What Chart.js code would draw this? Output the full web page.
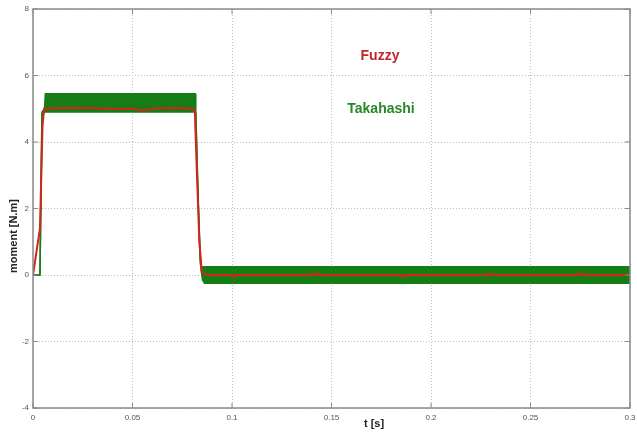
<!DOCTYPE html>
<html lang="en">
<head>
  <meta charset="UTF-8">
  <title>Moment - Fuzzy vs Takahashi</title>
  <script src="https://cdn.jsdelivr.net/npm/chart.js"></script>
  <style>
    html, body { margin: 0; padding: 0; background: #fff; }
    #wrap { width: 637px; height: 432px; }
  </style>
</head>
<body>
  <div id="wrap"><canvas id="momentChart" width="637" height="432"></canvas></div>

  <script>
    // time axis ticks [s] and moment axis ticks [N.m]
    const xTicks = [0, 0.05, 0.1, 0.15, 0.2, 0.25, 0.3];
    const yTicks = [-4, -2, 0, 2, 4, 6, 8];

    // Fuzzy controller torque (red)
    const fuzzyT = [0, 0.0035, 0.0048, 0.0056, 0.02, 0.04, 0.05, 0.055, 0.06, 0.07, 0.08, 0.0813,
                    0.0824, 0.0836, 0.0848, 0.087, 0.1, 0.101, 0.102, 0.141, 0.142, 0.143, 0.185, 0.186,
                    0.187, 0.229, 0.2296, 0.231, 0.274, 0.275, 0.276, 0.3];
    const fuzzyM = [0, 1.4, 4.5, 5.0, 5.03, 5.0, 5.0, 4.95, 5.0, 5.02, 5.0, 4.95,
                    3.0, 1.0, 0.1, 0.0, 0.0, -0.08, 0.0, 0.0, 0.07, 0.0, 0.0, -0.07,
                    0.0, 0.0, 0.06, 0.0, 0.0, 0.07, 0.0, 0.0];

    // Takahashi (DTC) torque ripple band (green): upper / lower envelope
    const takT  = [0, 0.0035, 0.0045, 0.0058, 0.0062, 0.0815, 0.0818, 0.0829, 0.0840, 0.0846, 0.0852, 0.0862, 0.3];
    const takHi = [0, 0, 4.9, 5.0, 5.45, 5.45, 4.9, 2.5, 0.6, 0.25, 0.25, 0.25, 0.25];
    const takLo = [0, 0, 4.8, 4.9, 4.9, 4.9, 4.85, 2.4, 0.4, 0.1, -0.15, -0.25, -0.25];

    const green = 'rgb(22,125,22)';
    const red = 'rgb(215,35,30)';

    const pts = (xs, ys) => xs.map((x, i) => ({ x: x, y: ys[i] }));

    // frame, inner tick marks and text labels
    const decor = {
      id: 'decor',
      afterDatasetsDraw(chart) {
        const { ctx, chartArea: a, scales } = chart;
        ctx.save();
        ctx.strokeStyle = '#8a8a8a';
        ctx.lineWidth = 1.5;
        ctx.strokeRect(a.left, a.top, a.right - a.left, a.bottom - a.top);
        ctx.lineWidth = 1;
        ctx.beginPath();
        xTicks.forEach(v => {
          const x = scales.x.getPixelForValue(v);
          ctx.moveTo(x, a.bottom); ctx.lineTo(x, a.bottom - 5);
          ctx.moveTo(x, a.top); ctx.lineTo(x, a.top + 5);
        });
        yTicks.forEach(v => {
          const y = scales.y.getPixelForValue(v);
          ctx.moveTo(a.left, y); ctx.lineTo(a.left + 5, y);
          ctx.moveTo(a.right, y); ctx.lineTo(a.right - 5, y);
        });
        ctx.stroke();

        ctx.textAlign = 'center';
        ctx.textBaseline = 'middle';
        ctx.font = 'bold 14px "Liberation Sans", Arial, sans-serif';
        ctx.fillStyle = 'rgb(190,40,45)';
        ctx.fillText('Fuzzy', 380, 56);
        ctx.fillStyle = 'rgb(40,135,40)';
        ctx.fillText('Takahashi', 381, 109);

        ctx.fillStyle = '#222';
        ctx.font = 'bold 11px "Liberation Sans", Arial, sans-serif';
        ctx.fillText('t [s]', 374, 424);
        ctx.translate(14, 236);
        ctx.rotate(-Math.PI / 2);
        ctx.fillText('moment [N.m]', 0, 0);
        ctx.restore();
      }
    };

    const ctx = document.getElementById('momentChart').getContext('2d');
    new Chart(ctx, {
      type: 'line',
      data: {
        datasets: [
          {
            label: 'Fuzzy',
            data: pts(fuzzyT, fuzzyM),
            borderColor: red,
            borderWidth: 2,
            pointRadius: 0,
            fill: false
          },
          {
            label: 'Takahashi max',
            data: pts(takT, takHi),
            borderColor: green,
            borderWidth: 1.5,
            pointRadius: 0,
            fill: false
          },
          {
            label: 'Takahashi min',
            data: pts(takT, takLo),
            borderColor: green,
            borderWidth: 1.5,
            pointRadius: 0,
            backgroundColor: green,
            fill: '-1'
          }
        ]
      },
      options: {
        responsive: false,
        animation: false,
        layout: { padding: { top: 9, right: 0, left: 0, bottom: 0 } },
        plugins: {
          legend: { display: false },
          tooltip: { enabled: false }
        },
        scales: {
          x: {
            type: 'linear',
            min: 0,
            max: 0.3,
            afterBuildTicks: s => { s.ticks = xTicks.map(v => ({ value: v })); },
            afterFit: s => { s.height = 24; s.paddingLeft = 0; s.paddingRight = 7; },
            grid: { color: '#bdbdbd', drawTicks: false },
            border: { display: false, dash: [1, 2] },
            ticks: {
              padding: 5,
              color: '#555',
              font: { size: 8, family: 'Arial, sans-serif' },
              maxRotation: 0,
              callback: v => String(v)
            }
          },
          y: {
            min: -4,
            max: 8,
            afterBuildTicks: s => { s.ticks = yTicks.map(v => ({ value: v })); },
            afterFit: s => { s.width = 33; },
            grid: { color: '#bdbdbd', drawTicks: false },
            border: { display: false, dash: [1, 2] },
            ticks: {
              padding: 4,
              color: '#555',
              font: { size: 8, family: 'Arial, sans-serif' }
            }
          }
        }
      },
      plugins: [decor]
    });
  </script>
</body>
</html>
